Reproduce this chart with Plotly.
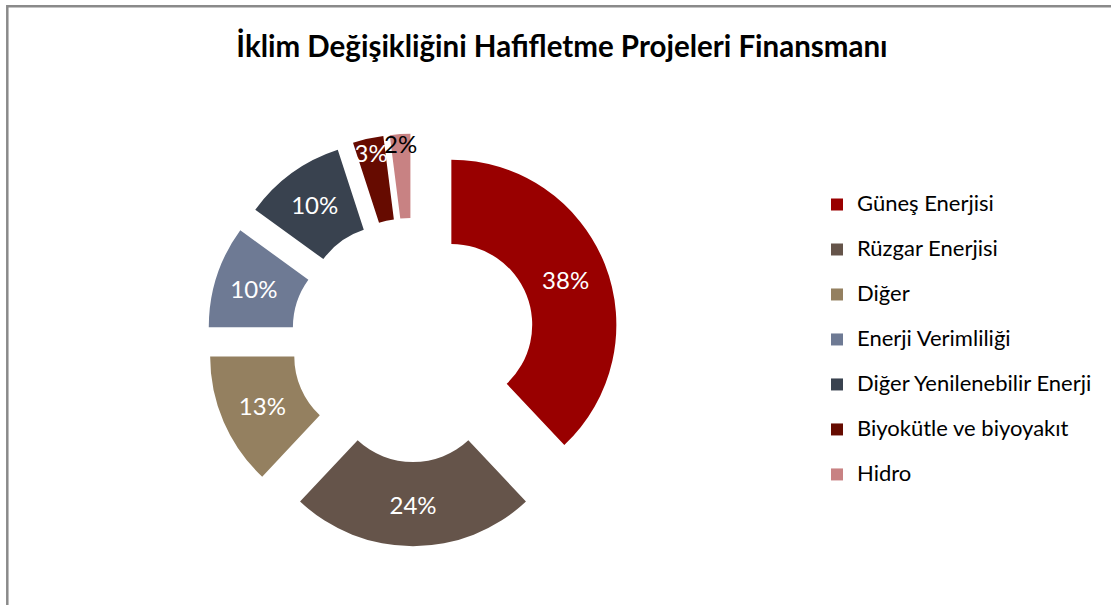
import plotly.graph_objects as go

categories = ["Güneş Enerjisi", "Rüzgar Enerjisi", "Diğer", "Enerji Verimliliği",
              "Diğer Yenilenebilir Enerji", "Biyokütle ve biyoyakıt", "Hidro"]
values = [38, 24, 13, 10, 10, 3, 2]
colors = ["#990000", "#65544A", "#948060", "#6E7A94", "#39424F", "#660B00", "#C88283"]
text_colors = ["white", "white", "white", "white", "white", "white", "black"]
title_text = "İklim Değişikliğini Hafifletme Projeleri Finansmanı"

W, H = 1111, 605
FONT = "Lato"

# legend labels: visible text at 22px, extra blank line to get Excel-like spacing
legend_labels = [f'<span style="font-size:22px">{c}</span><br> ' for c in categories]

# pie geometry (pixels)
cx, cy, half = 413, 340, 206.25

fig = go.Figure(go.Pie(
    labels=legend_labels,
    values=values,
    sort=False,
    direction="clockwise",
    rotation=0,
    hole=0.49,
    pull=0.25,
    marker=dict(colors=colors, line=dict(width=0)),
    textinfo="percent",
    textposition="inside",
    insidetextorientation="horizontal",
    textfont=dict(family=FONT, size=24, color=text_colors),
    domain=dict(x=[(cx - half) / W, (cx + half) / W],
                y=[1 - (cy + half) / H, 1 - (cy - half) / H]),
    hoverinfo="label+percent",
))

fig.update_layout(
    width=W, height=H,
    margin=dict(l=0, r=0, t=0, b=0),
    paper_bgcolor="white",
    plot_bgcolor="white",
    uniformtext=dict(minsize=24, mode="show"),
    title=dict(text=title_text, x=562 / W, xanchor="center",
               y=1 - 47 / H, yanchor="middle", yref="container",
               font=dict(family=FONT, size=29.5, color="black", weight="bold")),
    legend=dict(x=817 / W, xanchor="left", y=1 - 187.5 / H, yanchor="top",
                font=dict(family=FONT, size=16.15, color="black"),
                valign="top", itemwidth=30, bgcolor="rgba(0,0,0,0)",
                itemclick=False, itemdoubleclick=False),
    showlegend=True,
    shapes=[dict(type="rect", xref="paper", yref="paper",
                 x0=7.3 / W, x1=1.05, y0=-0.05, y1=1 - 6.2 / H,
                 line=dict(color="#8a8a8a", width=2.5), fillcolor="rgba(0,0,0,0)")],
)

fig.write_html("out.html", config={"displayModeBar": False},
               post_script="document.body.style.margin='0px';")
